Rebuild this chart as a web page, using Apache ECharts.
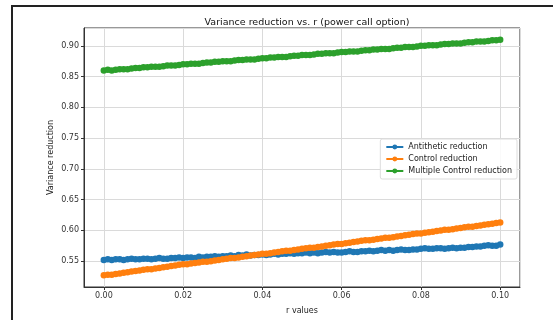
<!DOCTYPE html>
<html>
<head>
<meta charset="utf-8">
<script src="https://cdn.jsdelivr.net/npm/echarts@6/dist/echarts.min.js"></script>
<style>
  html, body { margin: 0; padding: 0; background: #fff; }
  #chart { width: 553px; height: 320px; }
</style>
</head>
<body>
<div id="chart"></div>
<script>
// r values (x axis)
var rValues = [
  0.000, 0.001, 0.002, 0.003, 0.004, 0.005, 0.006, 0.007, 0.008, 0.009,
  0.010, 0.011, 0.012, 0.013, 0.014, 0.015, 0.016, 0.017, 0.018, 0.019,
  0.020, 0.021, 0.022, 0.023, 0.024, 0.025, 0.026, 0.027, 0.028, 0.029,
  0.030, 0.031, 0.032, 0.033, 0.034, 0.035, 0.036, 0.037, 0.038, 0.039,
  0.040, 0.041, 0.042, 0.043, 0.044, 0.045, 0.046, 0.047, 0.048, 0.049,
  0.050, 0.051, 0.052, 0.053, 0.054, 0.055, 0.056, 0.057, 0.058, 0.059,
  0.060, 0.061, 0.062, 0.063, 0.064, 0.065, 0.066, 0.067, 0.068, 0.069,
  0.070, 0.071, 0.072, 0.073, 0.074, 0.075, 0.076, 0.077, 0.078, 0.079,
  0.080, 0.081, 0.082, 0.083, 0.084, 0.085, 0.086, 0.087, 0.088, 0.089,
  0.090, 0.091, 0.092, 0.093, 0.094, 0.095, 0.096, 0.097, 0.098, 0.099,
  0.100
];

var antithetic = [
  0.552, 0.553, 0.552, 0.553, 0.553, 0.552, 0.553, 0.554, 0.553, 0.553,
  0.554, 0.554, 0.553, 0.554, 0.555, 0.554, 0.554, 0.555, 0.555, 0.556,
  0.555, 0.556, 0.556, 0.555, 0.557, 0.556, 0.557, 0.557, 0.558, 0.557,
  0.558, 0.558, 0.559, 0.558, 0.560, 0.559, 0.561, 0.559, 0.560, 0.560,
  0.561, 0.560, 0.561, 0.562, 0.561, 0.562, 0.562, 0.563, 0.562, 0.563,
  0.563, 0.564, 0.563, 0.564, 0.563, 0.564, 0.565, 0.564, 0.565, 0.564,
  0.564, 0.565, 0.566, 0.565, 0.565, 0.566, 0.566, 0.567, 0.566, 0.567,
  0.568, 0.567, 0.568, 0.567, 0.568, 0.569, 0.568, 0.568, 0.569, 0.569,
  0.570, 0.571, 0.570, 0.570, 0.571, 0.571, 0.570, 0.571, 0.572, 0.571,
  0.572, 0.572, 0.573, 0.573, 0.574, 0.574, 0.575, 0.576, 0.575, 0.575,
  0.577
];

var control = [
  0.527, 0.528, 0.528, 0.529, 0.530, 0.531, 0.532, 0.533, 0.534, 0.535,
  0.536, 0.537, 0.537, 0.538, 0.539, 0.540, 0.541, 0.542, 0.543, 0.544,
  0.545, 0.545, 0.546, 0.547, 0.548, 0.549, 0.549, 0.550, 0.551, 0.552,
  0.553, 0.554, 0.555, 0.555, 0.556, 0.557, 0.558, 0.559, 0.560, 0.561,
  0.562, 0.562, 0.563, 0.564, 0.565, 0.566, 0.567, 0.567, 0.568, 0.569,
  0.570, 0.571, 0.572, 0.572, 0.573, 0.574, 0.575, 0.576, 0.577, 0.578,
  0.578, 0.579, 0.580, 0.581, 0.582, 0.583, 0.584, 0.584, 0.585, 0.586,
  0.587, 0.588, 0.588, 0.589, 0.590, 0.591, 0.592, 0.593, 0.594, 0.595,
  0.595, 0.596, 0.597, 0.598, 0.599, 0.600, 0.601, 0.601, 0.602, 0.603,
  0.604, 0.605, 0.606, 0.606, 0.607, 0.608, 0.609, 0.610, 0.611, 0.612,
  0.613
];

var multipleControl = [
  0.860, 0.861, 0.860, 0.861, 0.862, 0.862, 0.862, 0.863, 0.864, 0.864,
  0.865, 0.865, 0.866, 0.866, 0.866, 0.867, 0.868, 0.868, 0.868, 0.869,
  0.870, 0.870, 0.871, 0.871, 0.871, 0.872, 0.873, 0.873, 0.874, 0.874,
  0.875, 0.875, 0.875, 0.876, 0.877, 0.877, 0.878, 0.878, 0.878, 0.879,
  0.880, 0.880, 0.881, 0.881, 0.882, 0.882, 0.882, 0.883, 0.884, 0.884,
  0.885, 0.885, 0.885, 0.886, 0.887, 0.887, 0.888, 0.888, 0.888, 0.889,
  0.890, 0.890, 0.891, 0.891, 0.891, 0.892, 0.893, 0.893, 0.894, 0.894,
  0.895, 0.895, 0.895, 0.896, 0.897, 0.897, 0.898, 0.898, 0.898, 0.899,
  0.900, 0.900, 0.901, 0.901, 0.901, 0.902, 0.903, 0.903, 0.904, 0.904,
  0.904, 0.905, 0.906, 0.906, 0.907, 0.907, 0.907, 0.908, 0.909, 0.909,
  0.910
];

function pairs(ys) {
  return rValues.map(function (r, i) { return [r, ys[i]]; });
}

var myChart = echarts.init(document.getElementById('chart'));
var font = 'DejaVu Sans';

function mkSeries(name, ys, color) {
  return {
    name: name,
    type: 'line',
    data: pairs(ys),
    symbol: 'circle',
    symbolSize: 6.5,
    showSymbol: true,
    animation: false,
    itemStyle: { color: color },
    lineStyle: { color: color, width: 1.5 }
  };
}

var option = {
  backgroundColor: '#fff',
  textStyle: { fontFamily: font },
  title: {
    text: 'Variance reduction vs. r (power call option)',
    left: 302,
    textAlign: 'center',
    top: 13,
    textStyle: { fontSize: 9.5, fontWeight: 'normal', color: '#111', fontFamily: font }
  },
  graphic: [{
    type: 'rect',
    z: -10,
    shape: { x: 12, y: 6, width: 545, height: 330 },
    style: { fill: '#fff', stroke: '#222', lineWidth: 2 }
  }],
  legend: {
    orient: 'vertical',
    right: 36,
    top: 139,
    itemWidth: 17,
    itemHeight: 6,
    itemGap: 4,
    padding: [4, 5, 4, 5],
    backgroundColor: 'rgba(255,255,255,0.85)',
    borderColor: '#ddd',
    borderWidth: 1,
    borderRadius: 2,
    textStyle: { fontSize: 8, color: '#222', fontFamily: font },
    data: ['Antithetic reduction', 'Control reduction', 'Multiple Control reduction']
  },
  grid: {
    left: 84, right: 33, top: 28, bottom: 32,
    show: true, borderColor: '#333', borderWidth: 1, backgroundColor: '#fff'
  },
  xAxis: {
    type: 'value',
    min: -0.005,
    max: 0.105,
    splitNumber: 5,
    name: 'r values',
    nameLocation: 'middle',
    nameGap: 20,
    nameMoveOverlap: false,
    nameTextStyle: { fontSize: 8, color: '#222' },
    axisLine: { show: true, onZero: false, lineStyle: { color: '#333' } },
    axisTick: { show: true, length: 3, lineStyle: { color: '#333' } },
    axisLabel: {
      fontSize: 8, color: '#333', margin: 5,
      showMinLabel: false, showMaxLabel: false,
      formatter: function (v) { return v.toFixed(2); }
    },
    splitLine: { show: true, lineStyle: { color: '#dadada', width: 1 } }
  },
  yAxis: {
    type: 'value',
    min: 0.508,
    max: 0.929,
    splitNumber: 8,
    name: 'Variance reduction',
    nameLocation: 'middle',
    nameGap: 29,
    nameMoveOverlap: false,
    nameTextStyle: { fontSize: 8, color: '#222' },
    axisLine: { show: true, onZero: false, lineStyle: { color: '#333' } },
    axisTick: { show: true, length: 3, lineStyle: { color: '#333' } },
    axisLabel: {
      fontSize: 8, color: '#333', margin: 5,
      showMinLabel: false, showMaxLabel: false,
      formatter: function (v) { return v.toFixed(2); }
    },
    splitLine: { show: true, lineStyle: { color: '#dadada', width: 1 } }
  },
  series: [
    mkSeries('Antithetic reduction', antithetic, '#1f77b4'),
    mkSeries('Control reduction', control, '#ff7f0e'),
    mkSeries('Multiple Control reduction', multipleControl, '#2ca02c')
  ]
};

myChart.setOption(option);
</script>
</body>
</html>
